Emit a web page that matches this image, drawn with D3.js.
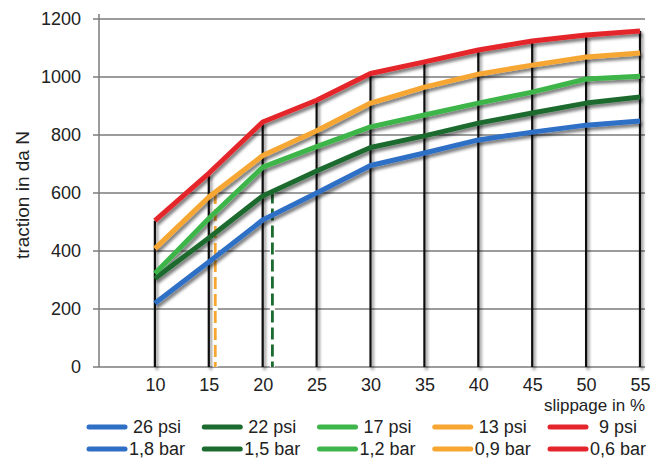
<!DOCTYPE html>
<html>
<head>
<meta charset="utf-8">
<script src="https://cdn.jsdelivr.net/npm/d3@7"></script>
<style>
  body { margin: 0; background: #fff; }
  svg text { font-family: "Liberation Sans", Arial, sans-serif; fill: #222; }
</style>
</head>
<body>
<svg id="chart" width="660" height="460"></svg>
<script>
// slippage in % (x) and traction in da N (y)
const slip = [10, 15, 20, 25, 30, 35, 40, 45, 50, 55];
const psi26 = [220, 362, 507, 600, 695, 738, 783, 810, 834, 848];
const psi22 = [305, 445, 590, 676, 757, 797, 841, 876, 910, 931];
const psi17 = [322, 512, 689, 760, 828, 869, 910, 948, 993, 1003];
const psi13 = [408, 586, 729, 815, 910, 965, 1010, 1041, 1069, 1083];
const psi9 = [505, 668, 845, 920, 1012, 1052, 1093, 1124, 1145, 1159];
const yTicks = [0, 200, 400, 600, 800, 1000, 1200];
const psiLabels = ['26 psi', '22 psi', '17 psi', '13 psi', '9 psi'];
const barLabels = ['1,8 bar', '1,5 bar', '1,2 bar', '0,9 bar', '0,6 bar'];
const colors = ['#2f6fc6', '#1c6b2f', '#3db54a', '#f6a631', '#e4262c'];
// dashed markers: slippage where they stand, and which series they start from
const markerSlip = [15.6, 20.9];
const markerSeries = [3, 1];

const seriesList = [psi26, psi22, psi17, psi13, psi9];

const svg = d3.select('#chart');
const x = d3.scaleLinear().domain([5, 55]).range([101, 640]);
const y = d3.scaleLinear().domain([0, 1200]).range([367, 19]);
const gridLeft = 93, gridRight = 645;

const defs = svg.append('defs');
defs.append('filter').attr('id', 'shadow')
  .attr('x', '-10%').attr('y', '-10%').attr('width', '130%').attr('height', '130%')
  .append('feDropShadow')
  .attr('dx', 2).attr('dy', 3).attr('stdDeviation', 1.8)
  .attr('flood-color', '#000').attr('flood-opacity', 0.5);

// horizontal grid
svg.append('g').selectAll('line').data(yTicks).enter().append('line')
  .attr('x1', gridLeft).attr('x2', gridRight)
  .attr('y1', d => y(d)).attr('y2', d => y(d))
  .attr('stroke', '#7b7b7b').attr('stroke-width', 1.3);

// y axis line
svg.append('line')
  .attr('x1', 99).attr('x2', 99).attr('y1', y(0)).attr('y2', 14)
  .attr('stroke', '#7b7b7b').attr('stroke-width', 1.5);

// black verticals up to the top curve
svg.append('g').attr('filter', 'url(#shadow)').selectAll('line').data(slip).enter().append('line')
  .attr('x1', d => x(d)).attr('x2', d => x(d))
  .attr('y1', y(0)).attr('y2', (d, i) => y(psi9[i]))
  .attr('stroke', '#111').attr('stroke-width', 2.2);

// dashed markers
function interp(series, s) {
  const i = d3.bisectRight(slip, s) - 1;
  const t = (s - slip[i]) / (slip[i + 1] - slip[i]);
  return series[i] + t * (series[i + 1] - series[i]);
}
const markers = svg.append('g');
markerSlip.forEach((s, k) => {
  const top = interp(seriesList[markerSeries[k]], s);
  markers.append('line')
    .attr('x1', x(s)).attr('x2', x(s)).attr('y1', y(top)).attr('y2', y(0))
    .attr('stroke', '#fff').attr('stroke-width', 5);
  markers.append('line')
    .attr('x1', x(s)).attr('x2', x(s)).attr('y1', y(top)).attr('y2', y(0))
    .attr('stroke', colors[markerSeries[k]]).attr('stroke-width', 2.8)
    .attr('stroke-dasharray', '12,5');
});

// curves
const line = d3.line().x((d, i) => x(slip[i])).y(d => y(d));
svg.append('g').attr('filter', 'url(#shadow)').selectAll('path').data(seriesList).enter().append('path')
  .attr('d', d => line(d))
  .attr('fill', 'none')
  .attr('stroke', (d, i) => colors[i])
  .attr('stroke-width', 5)
  .attr('stroke-linejoin', 'round');

// axes labels
const yAxis = svg.append('g').attr('transform', `translate(${gridLeft},0)`)
  .call(d3.axisLeft(y).tickValues(yTicks).tickFormat(d3.format('d')).tickSize(0).tickPadding(12));
yAxis.select('.domain').remove();
yAxis.selectAll('text').style('font-size', '18px').attr('fill', '#222');

const xAxis = svg.append('g').attr('transform', `translate(0,${y(0)})`)
  .call(d3.axisBottom(x).tickValues(slip).tickFormat(d3.format('d')).tickSize(0).tickPadding(11));
xAxis.select('.domain').remove();
xAxis.selectAll('text').style('font-size', '18px').attr('fill', '#222');

svg.append('text')
  .attr('x', gridRight).attr('y', 411)
  .attr('text-anchor', 'end')
  .style('font-size', '17px')
  .text('slippage in %');

svg.append('text')
  .attr('transform', 'translate(29,195) rotate(-90)')
  .attr('text-anchor', 'middle')
  .style('font-size', '19px')
  .text('traction in da N');

// legend
const legendX = d3.scaleLinear().domain([0, 4]).range([89, 550]);
const rows = [psiLabels, barLabels];
const rowY = [427, 449];
rows.forEach((labels, r) => {
  const g = svg.append('g');
  g.selectAll('line').data(labels).enter().append('line')
    .attr('x1', (d, i) => legendX(i)).attr('x2', (d, i) => legendX(i) + 36)
    .attr('y1', rowY[r]).attr('y2', rowY[r])
    .attr('stroke', (d, i) => colors[i])
    .attr('stroke-width', 5).attr('stroke-linecap', 'round');
  g.selectAll('text').data(labels).enter().append('text')
    .attr('x', (d, i) => legendX(i) + 68)
    .attr('y', rowY[r] + 6)
    .attr('text-anchor', 'middle')
    .style('font-size', '18px')
    .text(d => d);
});
</script>
</body>
</html>
